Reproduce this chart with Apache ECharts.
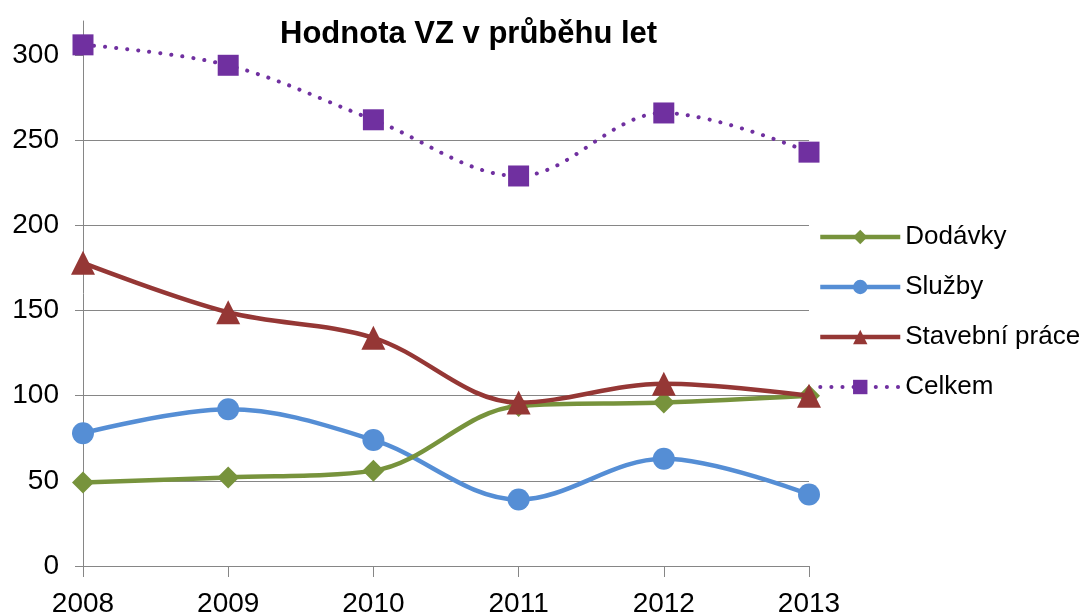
<!DOCTYPE html>
<html><head><meta charset="utf-8">
<script src="https://cdn.jsdelivr.net/npm/echarts@6/dist/echarts.min.js"></script>
<style>html,body{margin:0;padding:0;background:#fff}#c{width:1086px;height:614px}</style>
</head><body><div id="c"></div>
<script>
const years = ['2008','2009','2010','2011','2012','2013'];
const dodavky = [49, 52, 56, 94, 96, 100];
const sluzby = [78, 92, 74, 39, 63, 42];
const stavebni = [178, 149, 134, 96, 107, 100];
const celkem = [306, 294, 262, 229, 266, 243];
const yTicks = [0, 50, 100, 150, 200, 250, 300];
const titleText = 'Hodnota VZ v průběhu let';
const seriesNames = ['Dodávky', 'Služby', 'Stavební práce', 'Celkem'];

const FONT = 'Liberation Sans, Arial, sans-serif';
const chart = echarts.init(document.getElementById('c'), null, {renderer: 'canvas'});
const axisGrey = '#868686';
const DOT = [0.1, 11];
chart.setOption({
  animation: false,
  backgroundColor: '#fff',
  title: {
    text: titleText, left: 280, top: 19, padding: 0,
    textStyle: {fontFamily: FONT, fontSize: 31, fontWeight: 'bold', color: '#000'}
  },
  legend: {
    orient: 'vertical', left: 818, top: 224, padding: 0, itemWidth: 80, itemHeight: 18, itemGap: 24,
    textStyle: {fontFamily: FONT, fontSize: 26, color: '#000'},
    lineStyle: {width: 4.5},
    data: [
      {name: seriesNames[0]},
      {name: seriesNames[1]},
      {name: seriesNames[2]},
      {name: seriesNames[3], lineStyle: {width: 4, type: DOT, cap: 'round'}}
    ]
  },
  grid: {left: 83, right: 277, top: 21, bottom: 48, containLabel: false, outerBoundsMode: 'none'},
  xAxis: {
    type: 'category', data: years, boundaryGap: false,
    axisLine: {lineStyle: {color: axisGrey, width: 1}},
    axisTick: {show: true, length: 11, lineStyle: {color: axisGrey}},
    axisLabel: {fontFamily: FONT, fontSize: 28, color: '#000', margin: 24},
    splitLine: {show: false}
  },
  yAxis: {
    type: 'value', min: 0, max: 320, interval: 50,
    axisLine: {show: true, lineStyle: {color: axisGrey, width: 1}},
    axisTick: {show: true, length: 8, lineStyle: {color: axisGrey}, customValues: yTicks},
    axisLabel: {fontFamily: FONT, fontSize: 28, color: '#000', margin: 24, customValues: yTicks},
    splitLine: {show: true, showMaxLine: false, lineStyle: {color: axisGrey, width: 1}}
  },
  series: [
    {name: seriesNames[0], type: 'line', data: dodavky, smooth: 0.35,
     symbol: 'diamond', symbolSize: 22, color: '#77933C',
     lineStyle: {width: 4.5, color: '#77933C'}, itemStyle: {color: '#77933C'}, z: 3},
    {name: seriesNames[1], type: 'line', data: sluzby, smooth: 0.35,
     symbol: 'circle', symbolSize: 22, color: '#558ED5',
     lineStyle: {width: 4.5, color: '#558ED5'}, itemStyle: {color: '#558ED5'}, z: 2},
    {name: seriesNames[2], type: 'line', data: stavebni, smooth: 0.35,
     symbol: 'triangle', symbolSize: 24, color: '#953735',
     lineStyle: {width: 4.5, color: '#953735'}, itemStyle: {color: '#953735'}, z: 4},
    {name: seriesNames[3], type: 'line', data: celkem, smooth: 0.35,
     symbol: 'rect', symbolSize: 21, color: '#7030A0',
     lineStyle: {width: 4, color: '#7030A0', type: DOT, cap: 'round'}, itemStyle: {color: '#7030A0'}, z: 5}
  ]
});
</script></body></html>
